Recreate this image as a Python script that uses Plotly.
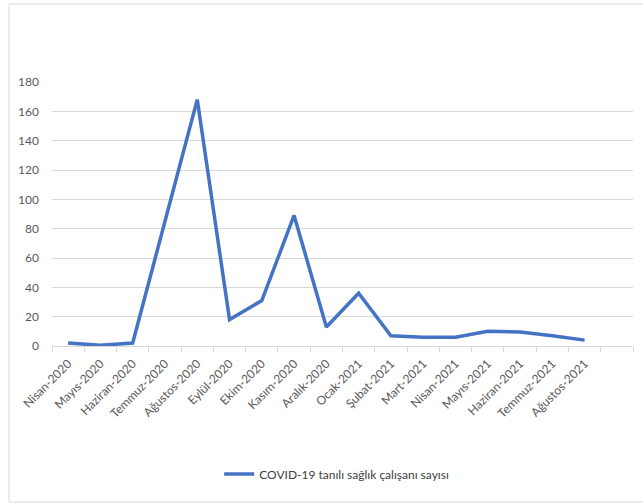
import plotly.graph_objects as go

months = ["Nisan-2020", "Mayıs-2020", "Haziran-2020", "Temmuz-2020", "Ağustos-2020",
          "Eylül-2020", "Ekim-2020", "Kasım-2020", "Aralık-2020", "Ocak-2021",
          "Şubat-2021", "Mart-2021", "Nisan-2021", "Mayıs-2021", "Haziran-2021",
          "Temmuz-2021", "Ağustos-2021"]
values = [2, 0.5, 2, 84, 168, 18, 31, 89, 13, 36, 7, 6, 6, 10, 9.5, 7, 4]
series_name = "COVID-19 tanılı sağlık çalışanı sayısı"
y_ticks = [0, 20, 40, 60, 80, 100, 120, 140, 160, 180]

W, H = 643, 504
L, R, T, B = 52, 10, 82, 158
pw, ph = W - L - R, H - T - B

def px(x):
    return (x - L) / pw

def py(y):
    return (H - B - y) / ph

xs = list(range(len(months)))
fig = go.Figure()
fig.add_trace(go.Scatter(x=xs, y=values, mode="lines", name=series_name,
                         line=dict(color="#4472C4", width=3.5)))

font_fam = "Lato, Liberation Sans, sans-serif"
fig.update_layout(
    width=W, height=H,
    margin=dict(l=L, r=R, t=T, b=B),
    paper_bgcolor="white", plot_bgcolor="white",
    font=dict(family=font_fam, size=12, color="#595959"),
    showlegend=True,
    legend=dict(orientation="h", x=0.49, xanchor="center", y=py(474), yanchor="middle",
                font=dict(size=12, color="#404040")),
    xaxis=dict(range=[-0.5, len(months) + 0.5], tickmode="array", tickvals=xs,
               ticktext=months, tickangle=-45, ticklen=0, showgrid=False,
               showline=True, linecolor="#d9d9d9", linewidth=1, zeroline=False,
               ticklabelstandoff=5,
               tickfont=dict(size=12, color="#595959"),
               minor=dict(tickmode="linear", tick0=-0.5, dtick=1, ticklen=5,
                          tickcolor="#d9d9d9", ticks="outside", showgrid=False)),
    yaxis=dict(range=[0, 180], tickmode="array", tickvals=y_ticks, showgrid=True,
               gridcolor="#d9d9d9", gridwidth=1, zeroline=False, showline=False,
               ticks="", ticklabelstandoff=12,
               tickfont=dict(size=12, color="#595959")),
    shapes=[dict(type="rect", xref="paper", yref="paper",
                 x0=px(9), x1=px(660), y0=py(502), y1=py(4),
                 line=dict(color="#d9d9d9", width=1), layer="below")],
)
fig.write_html("out.html")
